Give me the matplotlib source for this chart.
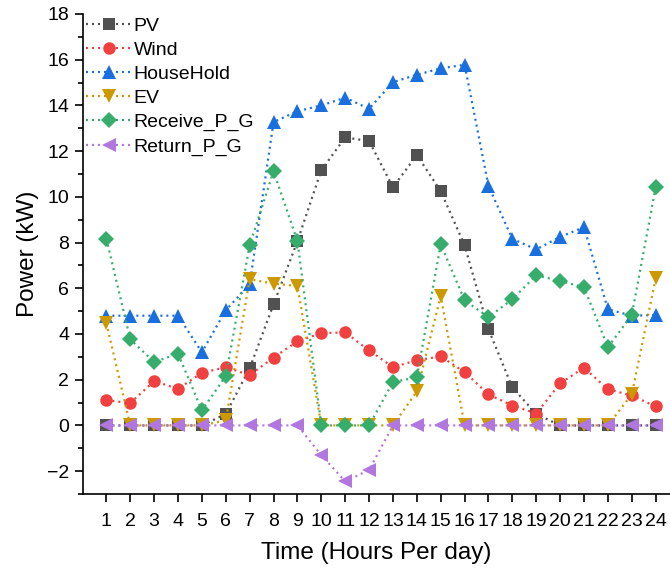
import matplotlib
matplotlib.use("Agg")
import matplotlib.pyplot as plt
from matplotlib.ticker import MultipleLocator

plt.rcParams['font.family'] = ['Liberation Sans', 'DejaVu Sans']

hours = list(range(1, 25))

pv = [0, 0, 0, 0, 0, 0.5, 2.5, 5.3, 8.06, 11.17, 12.6, 12.44, 10.42, 11.83,
      10.25, 7.88, 4.2, 1.66, 0.5, 0, 0, 0, 0, 0]
wind = [1.1, 0.98, 1.94, 1.6, 2.3, 2.55, 2.2, 2.97, 3.68, 4.04, 4.07, 3.28,
        2.55, 2.85, 3.02, 2.33, 1.36, 0.87, 0.52, 1.84, 2.53, 1.58, 1.31, 0.83]
household = [4.8, 4.8, 4.8, 4.8, 3.2, 5.04, 6.17, 13.27, 13.75, 14.0, 14.34,
             13.85, 15.02, 15.34, 15.62, 15.78, 10.47, 8.16, 7.7, 8.25, 8.67,
             5.08, 4.8, 4.83]
ev = [4.47, 0, 0, 0, 0, 0.22, 6.4, 6.2, 6.1, 0, 0, 0, 0, 1.49, 5.66, 0, 0,
      0, 0, 0, 0, 0, 1.36, 6.43]
receive = [8.16, 3.77, 2.77, 3.14, 0.66, 2.16, 7.88, 11.12, 8.06, 0, 0, 0,
           1.9, 2.1, 7.93, 5.47, 4.74, 5.52, 6.57, 6.32, 6.04, 3.42, 4.83,
           10.42]
ret = [0, 0, 0, 0, 0, 0, 0, 0, 0, -1.3, -2.45, -1.95, 0, 0, 0, 0, 0, 0, 0,
       0, 0, 0, 0, 0]

series = [
    ("PV", pv, "#515151", "s", 8),
    ("Wind", wind, "#F14040", "o", 9),
    ("HouseHold", household, "#1A6FDF", "^", 10),
    ("EV", ev, "#CC9900", "v", 10),
    ("Receive_P_G", receive, "#37AD6B", "D", 8),
    ("Return_P_G", ret, "#B177DE", "<", 10),
]

fig = plt.figure(figsize=(6.7, 5.74), dpi=100)
ax = fig.add_axes([82.5 / 670, 80 / 574, (670 - 82.5) / 670, 480 / 574])

for name, vals, color, marker, ms in series:
    ax.plot(hours, vals, color=color, marker=marker, markersize=ms,
            markeredgewidth=0, linewidth=1.6, linestyle=(0, (0.9, 1.8)),
            label=name, clip_on=False)

ax.set_xlim(0, 24.6)
ax.set_ylim(-3, 18)
ax.set_xticks(hours)
ax.yaxis.set_major_locator(MultipleLocator(2))
ax.yaxis.set_minor_locator(MultipleLocator(1))

for side in ("top", "right"):
    ax.spines[side].set_visible(False)
for side in ("left", "bottom"):
    ax.spines[side].set_linewidth(1.2)

ax.tick_params(axis="both", which="major", direction="out", length=6,
               width=1.2, labelsize=14)
ax.tick_params(axis="y", which="minor", direction="out", length=3.5, width=1.2)
ax.tick_params(axis="x", which="major", pad=8)

ax.set_ylabel("Power (kW)", fontsize=17.5, labelpad=6)
ax.set_xlabel("Time (Hours Per day)", fontsize=17.5, labelpad=8)

ax.legend(loc="upper left", frameon=False, fontsize=14,
          bbox_to_anchor=(-0.012, 1.015), handlelength=2.3, handletextpad=0.15,
          labelspacing=0.33, borderaxespad=0.15)

fig.savefig("out.png", dpi=100)
